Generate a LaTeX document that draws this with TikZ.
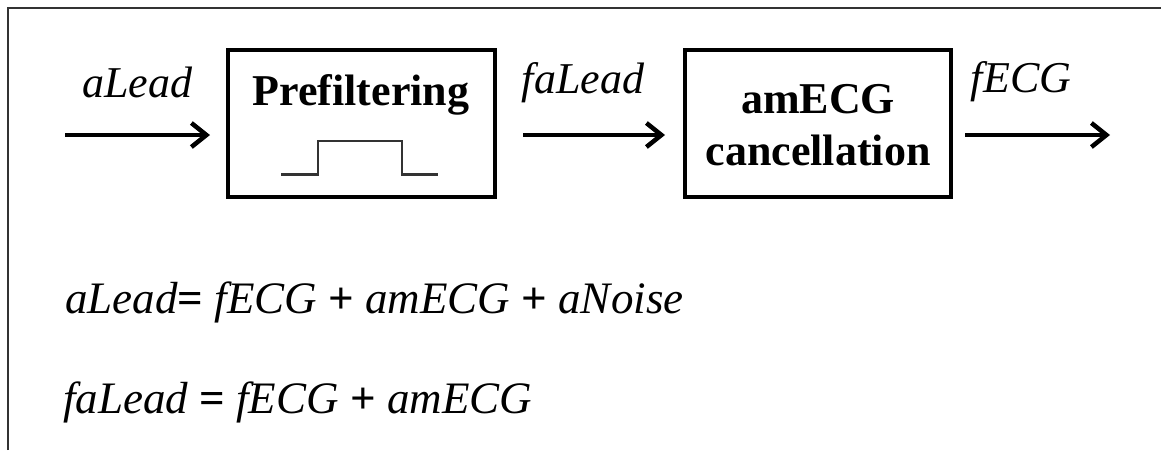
\documentclass[tikz,border=0pt]{standalone}
\usepackage{fontspec}
\setmainfont{Liberation Serif}
\usetikzlibrary{arrows.meta}
\begin{document}
\begin{tikzpicture}[x=1pt,y=-1pt,
  lbl/.style={inner sep=0pt, anchor=base, font=\fontsize{44}{50}\selectfont\itshape},
  eqn/.style={inner sep=0pt, anchor=base west, font=\fontsize{45}{50}\selectfont},
  boldtxt/.style={inner sep=0pt, anchor=base, font=\fontsize{44}{50}\selectfont\bfseries},
  blk/.style={draw, line width=4pt, minimum height=147pt, inner sep=0pt},
  flow/.style={line width=4pt, -{Straight Barb[length=15pt,width=24pt,line width=4.5pt]}},
  pulse/.style={line width=2.2pt, draw=black!80},
  frame/.style={line width=2pt, draw=black!80}]
\useasboundingbox (0,0) rectangle (1161,450);
\draw[frame] (8,450) -- (8,8) -- (1161,8);
\node[blk, minimum width=267pt] (p1) at (361.5,123.5) {};
\node[blk, minimum width=266pt] (p2) at (818,123.5) {};
\coordinate (in) at (65,135);
\coordinate (out) at (1110,135);
\node[boldtxt] (t1) at (361,105) {Prefiltering};
\node[boldtxt] (t2a) at (818,113) {amECG};
\node[boldtxt] (t2b) at (818,165) {cancellation};
\draw[pulse] (281,174.5) -- (318,174.5) -- (318,141) -- (402,141) -- (402,174.5) -- (438,174.5);
\draw[flow, shorten >=16pt] (in) -- (in -| p1.west);
\draw[flow, shorten <=26pt, shorten >=18pt] (p1.east |- in) -- (p2.west |- in);
\draw[flow, shorten <=12pt] (p2.east |- out) -- (out);
\node[lbl] (l1) at (137,97) {aLead};
\node[lbl] (l2) at (583,93) {faLead};
\node[lbl] (l3) at (1021,92) {fECG};
\node[eqn] (e1) at (65,313) {\textit{aLead}\textbf{=} \textit{fECG} \textbf{+} \textit{amECG} \textbf{+} \textit{aNoise}};
\node[eqn] (e2) at (63,413) {\textit{faLead} \textbf{=} \textit{fECG} \textbf{+} \textit{amECG}};
\end{tikzpicture}
\end{document}
